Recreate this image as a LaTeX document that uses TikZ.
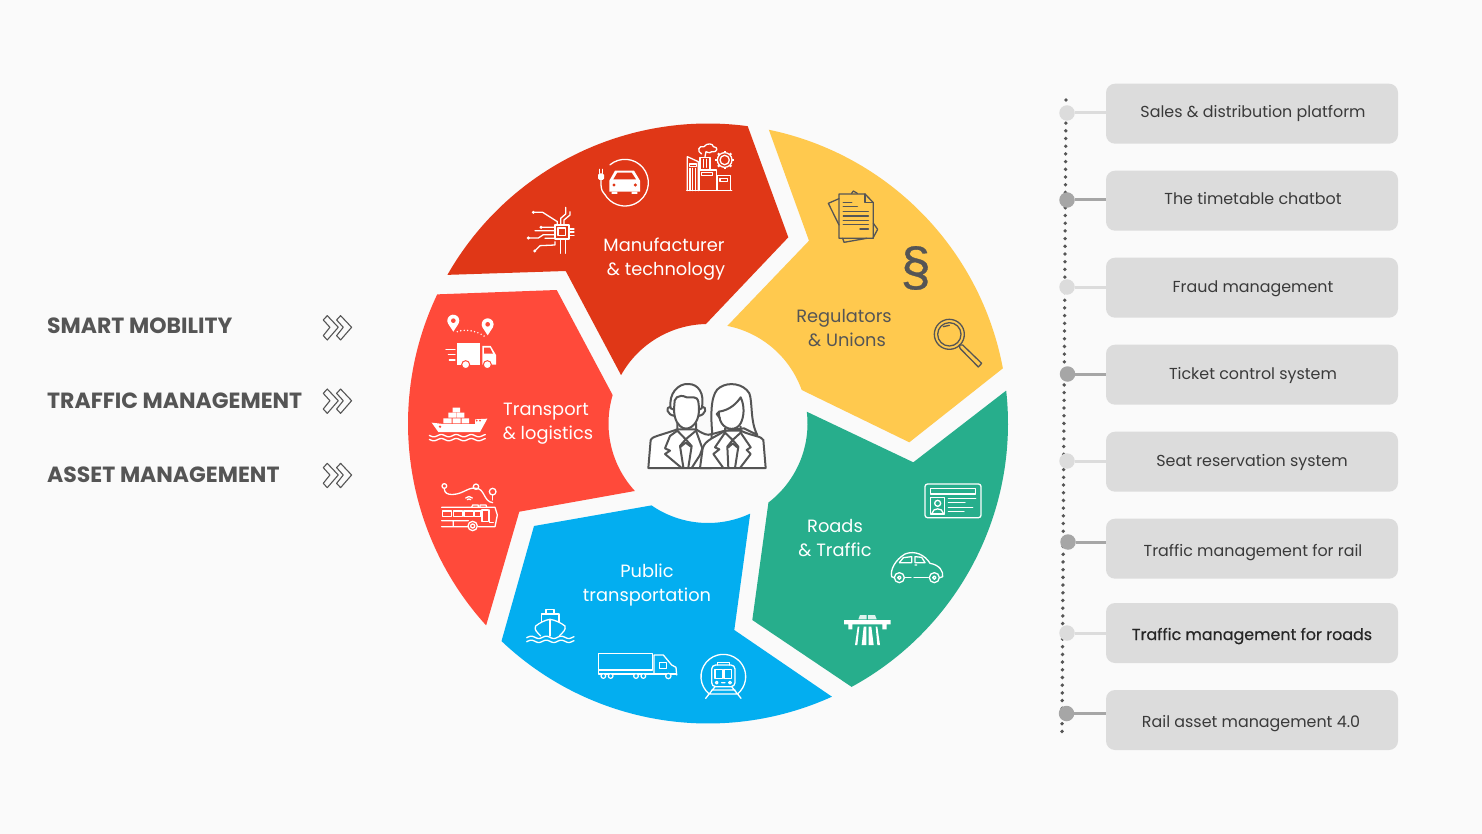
\documentclass[tikz,border=0pt]{standalone}
\usepackage{fontspec}
\usetikzlibrary{calc}
\setmainfont{Poppins}
\definecolor{bgc}{HTML}{FAFAFA}
\definecolor{cman}{HTML}{E03717}
\definecolor{creg}{HTML}{FFC94E}
\definecolor{crd}{HTML}{27AE8C}
\definecolor{cpub}{HTML}{03AEF0}
\definecolor{ctra}{HTML}{FF4A3A}
\definecolor{boxc}{HTML}{DCDCDC}
\definecolor{markd}{HTML}{A6A6A6}
\definecolor{inkc}{HTML}{555555}
\definecolor{txtc}{HTML}{3A3A3A}
\tikzset{
  wheellabel/.style={anchor=base,font=\fontsize{17.8}{24}\selectfont,inner sep=0pt},
  headlabel/.style={anchor=base west,inner sep=0pt,text=inkc,font=\fontsize{22}{24}\selectfont\bfseries},
  listbox/.style={fill=boxc,rounded corners=9pt,minimum width=292pt,minimum height=60pt,inner sep=0pt},
  listtext/.style={anchor=base,inner sep=0pt,text=txtc,font=\fontsize{15.9}{20}\selectfont},
  lightmark/.style={circle,fill=boxc,minimum size=15.5pt,inner sep=0pt},
  darkmark/.style={circle,fill=markd,minimum size=15.5pt,inner sep=0pt},
  iconw/.style={draw=white,line width=1.3pt,line join=round,line cap=round},
  iconk/.style={draw=inkc,line width=1.3pt,line join=round,line cap=round},
  zoomed/.style={x=0.33333pt,y=-0.33333pt},
}
\newcommand\pinicon[3]{\fill[white] (#1,#2+33) -- (#1-15.6,#2+9) arc[start angle=150,end angle=390,radius=18] -- cycle; \fill[#3] (#1,#2) circle[radius=7];}
\newcommand\waveline[4]{\draw[#4] plot[domain=#1:#2,samples=40,smooth] (\x,{#3+3.5*sin(\x*8)});}
\newcommand\chevicon[2]{
  \begin{scope}[shift={(#1,#2)},zoomed]
  \draw[draw=inkc,line width=1.1pt,line join=round] (-40,-22)--(-28,-35)--(5,0)--(-28,38)--(-40,25)--(-20,0)--cycle;
  \draw[draw=inkc,line width=1.1pt,line join=round] (0,-22)--(12,-35)--(45,0)--(12,38)--(0,25)--(20,0)--cycle;
  \end{scope}}
\begin{document}
\begin{tikzpicture}[x=1pt,y=-1pt]
\path[use as bounding box,fill=bgc] (0,0) rectangle (1482,834);
\coordinate (c) at (708,423.5);
% wheel
\fill[cman] (c)++(-82.4:300) arc[start angle=-82.4,end angle=-150.3,radius=300] -- (565.7,271) -- (621,375) -- ($(c)+(-150.9:99.5)$) arc[start angle=-150.9,end angle=-91.2,radius=99.5] -- (788.3,237.3) -- cycle;
\fill[creg] (c)++(-78.3:300) arc[start angle=-78.3,end angle=-10.6,radius=300] -- (909.3,442.3) -- ($(c)+(-19.7:99.5)$) arc[start angle=-19.7,end angle=-78.8,radius=99.5] -- (809,240.7) -- cycle;
\fill[crd] (c)++(-6.3:300) arc[start angle=-6.3,end angle=61.4,radius=300] -- (752.3,620) -- ($(c)+(52.6:99.5)$) arc[start angle=52.6,end angle=-6.8,radius=99.5] -- (913.3,462.3) -- cycle;
\fill[cpub] (c)++(65.6:300) arc[start angle=65.6,end angle=133.5,radius=300] -- (534,526) -- ($(c)+(124.6:99.5)$) arc[start angle=124.6,end angle=64.9,radius=99.5] -- (734.3,630) -- cycle;
\fill[ctra] (c)++(137.7:300) arc[start angle=137.7,end angle=205.5,radius=300] -- (556.7,290) -- ($(c)+(196.6:99.5)$) arc[start angle=196.6,end angle=137.3,radius=99.5] -- (519.3,511.7) -- cycle;
% wheel labels
\node[wheellabel,text=white] (lmana) at (664,251.7) {Manufacturer};
\node[wheellabel,text=white] (lmanb) at (666,275.7) {\& technology};
\node[wheellabel,text=inkc] (lrega) at (844,322.7) {Regulators};
\node[wheellabel,text=inkc] (lregb) at (847,346.7) {\& Unions};
\node[wheellabel,text=white] (ltraa) at (546,415) {Transport};
\node[wheellabel,text=white] (ltrab) at (548,439) {\& logistics};
\node[wheellabel,text=white] (lrda) at (835,532.7) {Roads};
\node[wheellabel,text=white] (lrdb) at (835,556.7) {\& Traffic};
\node[wheellabel,text=white] (lpuba) at (647,577.7) {Public};
\node[wheellabel,text=white] (lpubb) at (647,601.7) {transportation};
% left labels
\node[headlabel] (h1) at (47,333.5) {SMART MOBILITY};
\node[headlabel] (h2) at (47,408) {TRAFFIC MANAGEMENT};
\node[headlabel] (h3) at (47,482.5) {ASSET MANAGEMENT};
\chevicon{336.6}{327.3}
\chevicon{336.6}{400.7}
\chevicon{336.6}{475}
% list
\draw[draw=inkc,line width=3.8pt,line cap=round,dash pattern=on 0pt off 7.7pt] (1066,100) -- (1062,733);
\node[listbox] (b1) at (1252,113.7) {};
\node[listbox] (b2) at (1252,200.7) {};
\node[listbox] (b3) at (1252,287.7) {};
\node[listbox] (b4) at (1252,374.7) {};
\node[listbox] (b5) at (1252,461.7) {};
\node[listbox] (b6) at (1252,548.7) {};
\node[listbox] (b7) at (1252,633) {};
\node[listbox] (b8) at (1252,720) {};
\node[listtext] (t1) at (1253,118) {Sales \& distribution platform};
\node[listtext] (t2) at (1253,205) {The timetable chatbot};
\node[listtext] (t3) at (1253,292) {Fraud management};
\node[listtext] (t4) at (1253,379) {Ticket control system};
\node[listtext] (t5) at (1252,466) {Seat reservation system};
\node[listtext] (t6) at (1253,556) {Traffic management for rail};
\node[listtext,text=black!85] (t7) at (1252,640) {\addfontfeature{FakeBold=0.4}Traffic management for roads};
\node[listtext] (t8) at (1251,727) {Rail asset management 4.0};
\node[lightmark] (m1) at (1067,113) {};
\node[darkmark] (m2) at (1067,200) {};
\node[lightmark] (m3) at (1067,287) {};
\node[darkmark] (m4) at (1067.5,374) {};
\node[lightmark] (m5) at (1067,461) {};
\node[darkmark] (m6) at (1068,542) {};
\node[lightmark] (m7) at (1067,633) {};
\node[darkmark] (m8) at (1066.5,713.5) {};
\foreach \i/\cc in {1/boxc,3/boxc,5/boxc,7/boxc,2/markd,4/markd,6/markd,8/markd}
  \draw[\cc,line width=3pt] (m\i) -- (m\i -| b\i.west);
% people
\begin{scope}[shift={(620,360)},zoomed]
\begin{scope}[draw=inkc,fill=white,line width=2pt,line join=round,line cap=round]
\filldraw (85,324) -- (92,240) .. controls (95,230) and (115,228) .. (172,208) -- (228,208) .. controls (250,222) and (262,228) .. (275,222) -- (275,324) -- cycle;
\filldraw (240,324) -- (248,265) .. controls (255,240) and (285,232) .. (315,212) -- (362,212) .. controls (395,228) and (425,228) .. (430,240) -- (437,324) -- cycle;
\filldraw (277,222) .. controls (270,150) and (275,95) .. (300,82) .. controls (325,65) and (370,70) .. (388,100) .. controls (398,125) and (390,185) .. (412,225) -- (372,205) -- (315,212) -- cycle;
\filldraw (297,155) .. controls (330,150) and (350,130) .. (362,112) .. controls (375,140) and (372,170) .. (362,190) .. controls (350,212) and (320,212) .. (305,190) .. controls (298,178) and (296,165) .. (297,155) -- cycle;
\draw (297,155) -- (290,162) -- (300,175);
\draw (315,205) -- (315,218) -- (338,240) -- (362,218) -- (362,200);
\draw (315,218) -- (285,262) -- (298,268) -- (280,282) -- (310,324);
\draw (362,218) -- (392,262) -- (380,270) -- (392,282) -- (360,324);
\draw (338,240) -- (322,260) -- (325,324) (338,240) -- (355,260) -- (345,324);
\draw (325,262) -- (338,250) -- (352,262);
\filldraw (152,140) .. controls (135,140) and (140,165) .. (165,168) -- (165,140) -- cycle;
\filldraw (247,140) .. controls (262,140) and (258,165) .. (235,168) -- (235,140) -- cycle;
\filldraw (152,145) .. controls (145,100) and (175,70) .. (205,72) .. controls (235,72) and (255,100) .. (245,145) -- (235,150) -- (165,150) -- cycle;
\filldraw (163,135) .. controls (160,115) and (175,100) .. (200,112) .. controls (215,115) and (230,105) .. (235,125) .. controls (240,160) and (235,185) .. (215,200) .. controls (205,208) and (190,208) .. (180,198) .. controls (165,185) and (160,160) .. (163,135) -- cycle;
\draw (172,190) -- (172,212) -- (197,238) -- (228,212) -- (228,190);
\draw (172,212) -- (150,228) -- (135,265) -- (150,272) -- (135,282) -- (185,324);
\draw (228,212) -- (247,265) -- (240,285) -- (215,324);
\draw (197,238) -- (180,258) -- (190,322) (197,238) -- (215,258) -- (205,322);
\draw (182,260) -- (197,248) -- (213,260);
\end{scope}
\end{scope}
% manufacturer icons
\begin{scope}[shift={(400,110)},zoomed]
\draw[iconw] (675,218)++(-130:70) arc[start angle=-130,end angle=150,radius=70];
\draw[iconw] (603,208) -- (603,225) .. controls (604,240) and (608,248) .. (614,253);
\fill[white,rounded corners=1.5pt] (594,190) rectangle (612,210);
\draw[iconw] (598,178) -- (598,190) (608,178) -- (608,190);
\fill[white] (628,245) -- (628,212) -- (645,182) -- (702,182) -- (720,212) -- (720,245) -- cycle;
\fill[white] (635,245) rectangle (652,252) (695,245) rectangle (712,252);
\fill[cman] (640,208) -- (652,188) -- (695,188) -- (708,208) -- cycle;
\fill[cman] (642,225) circle[radius=5] (706,225) circle[radius=5];
% factory
\draw[iconw] (860,242) -- (995,242);
\draw[iconw] (862,242) -- (862,140) -- (895,155) -- (895,242);
\draw[iconw] (870,175) -- (870,242) (878,175) -- (878,242) (886,175) -- (886,242) (868,162) rectangle (890,170);
\draw[iconw] (897,180) rectangle (950,242) (905,188) rectangle (938,196);
\draw[iconw] (952,197) rectangle (992,242) (960,206) rectangle (982,214);
\draw[iconw] (900,178) -- (900,142) -- (930,142) -- (930,178) (910,148) -- (910,172) (920,148) -- (920,172);
\draw[iconw] (905,132) .. controls (890,125) and (895,105) .. (912,110) .. controls (920,98) and (940,100) .. (940,110) .. controls (955,110) and (955,128) .. (935,125) .. controls (928,132) and (920,125) .. (918,125) -- (915,140);
\draw[iconw] (974,150) circle[radius=14] (974,150) circle[radius=22];
\foreach \a in {0,45,...,315} \draw[white,line width=2.2pt] (974,150)++(\a:22) -- ++(\a:6);
% chip
\draw[iconw] (465,345) rectangle (507,387) (474,354) rectangle (497,377);
\draw[iconw] (398,307) -- (428,307) -- (472,335) -- (472,345);
\fill[white] (400,307) circle[radius=5] (423,352) circle[radius=5] (385,384) circle[radius=5] (404,423) circle[radius=5];
\draw[iconw] (423,352) -- (465,352) (405,362) -- (465,362) (385,384) -- (415,384) -- (430,374) -- (465,374) (404,423) -- (420,407) -- (465,405) -- (465,395) (435,385) -- (465,385);
\draw[iconw] (482,345) -- (482,325) -- (497,312) -- (497,292) (492,345) -- (492,330) -- (510,315) -- (510,305);
\draw[iconw] (482,387) -- (482,430) (497,387) -- (497,430);
\draw[iconw] (507,357) -- (522,357) (507,366) -- (522,366) (507,376) -- (522,376);
% pins & truck
\pinicon{160}{632}{ctra}
\pinicon{263}{643}{ctra}
\draw[white,line width=1.6pt,dash pattern=on 0pt off 3.5pt,line cap=round] (172,665) .. controls (200,655) and (235,665) .. (255,680);
\fill[white] (170,700) rectangle (240,764);
\fill[white] (247,708) -- (272,708) -- (288,735) -- (288,764) -- (247,764) -- cycle;
\fill[ctra] (252,713) -- (270,713) -- (279,731) -- (252,731) -- cycle;
\filldraw[fill=white,draw=ctra,line width=1pt] (197,764) circle[radius=12] (262,764) circle[radius=12];
\draw[iconw] (138,718) -- (165,718) (145,733) -- (165,733) (148,750) -- (165,750);
\end{scope}
% regulators icons
\begin{scope}[shift={(720,110)},zoomed]
\draw[iconk] (357,266) -- (325,280) -- (357,345) (395,250) -- (400,243) -- (412,250);
\draw[iconk] (460,340) -- (473,358) -- (460,382) (368,385) -- (372,397) -- (440,385);
\draw[iconk] (357,252) -- (435,252) -- (460,278) -- (460,385) -- (357,385) -- cycle;
\draw[iconk] (435,252) -- (435,278) -- (460,278);
\draw[iconk,line width=1.5pt] (370,278) -- (395,278) (370,290) -- (412,290) (370,305) -- (445,305) (370,318) -- (445,318) (370,331) -- (445,331) (370,344) -- (445,344) (420,357) -- (445,357);
\draw[iconk] (688,673) circle[radius=45] (688,673) circle[radius=35];
\draw[iconk] (670,650) -- (688,646);
\draw[iconk] (718,705) -- (728,705) -- (785,760) -- (775,771) -- (720,715) -- cycle;
\end{scope}
\node[inner sep=0pt,text=inkc,font=\fontsize{54}{54}\selectfont] (para) at (915.7,268) {\fontspec[FakeBold=0.6]{Liberation Sans}§};
% transport icons
\begin{scope}[shift={(400,400)},zoomed]
\fill[white] (95,68) -- (130,72) -- (225,72) -- (225,58) -- (262,56) -- (240,96) -- (115,96) -- cycle;
\fill[white] (130,55) rectangle (155,70) (158,55) rectangle (182,70) (185,55) rectangle (207,70) (145,38) rectangle (168,53) (170,38) rectangle (193,53) (158,23) rectangle (180,36);
\fill[ctra] (230,62) circle[radius=3] (240,62) circle[radius=3] (120,80) circle[radius=4];
\waveline{88}{256}{107}{iconw}
\waveline{88}{256}{119}{iconw}
% bus
\draw[iconw] (125,322) -- (285,322) -- (292,345) -- (285,380) -- (235,380) (205,380) -- (125,380) (125,362) -- (205,362) (160,362) -- (160,380);
\draw[iconw] (215,322) -- (218,315) -- (235,315) -- (235,322) (240,322) -- (240,315) -- (258,315) -- (260,322);
\draw[iconw] (127,333) rectangle (155,350) (160,333) rectangle (187,350) (192,333) rectangle (220,350) (223,333) rectangle (243,350) (246,330) rectangle (265,365) (268,330) -- (268,368) -- (280,368);
\draw[iconw] (218,378) circle[radius=14] (218,378) circle[radius=6];
\draw[iconw] (133,268) .. controls (135,290) and (170,285) .. (190,275) .. controls (205,268) and (215,262) .. (228,265) .. controls (255,265) and (250,305) .. (278,308);
\draw[iconw] (133,258) circle[radius=7] (228,260) circle[radius=8] (278,275) circle[radius=10];
\draw[iconw] (133,266) -- (133,272) (278,285) -- (278,300);
\draw[iconw] (197,294) .. controls (202,288) and (212,288) .. (217,294) (202,299) .. controls (205,296) and (209,296) .. (212,299);
% public icons
\draw[iconw] (438,642) -- (438,628) -- (462,628) -- (462,642);
\draw[iconw] (425,665) -- (425,642) -- (477,642) -- (477,665);
\draw[iconw] (450,658) -- (450,708);
\draw[iconw] (422,708) .. controls (410,695) and (402,690) .. (407,678) .. controls (420,668) and (435,660) .. (450,658) .. controls (465,660) and (482,668) .. (495,678) .. controls (498,690) and (490,695) .. (478,708);
\waveline{380}{522}{712}{iconw}
\waveline{380}{522}{724}{iconw}
\draw[iconw] (595,760) rectangle (757,810);
\draw[iconw] (595,812) -- (595,822) -- (830,822);
\draw[iconw] (762,820) -- (762,765) -- (790,765) -- (815,795) -- (828,802) -- (830,825);
\draw[iconw] (778,787) -- (800,787) -- (800,805) -- (778,805) -- cycle;
\filldraw[fill=cpub,draw=white,line width=1.2pt] (610,828) circle[radius=7] (632,828) circle[radius=7] (708,828) circle[radius=7] (730,828) circle[radius=7] (805,828) circle[radius=8];
\draw[iconw] (970,830)++(130:67) arc[start angle=130,end angle=410,radius=67];
\draw[iconw,rounded corners=4pt] (935,795) rectangle (1005,860);
\draw[iconw] (952,795) -- (952,788) -- (988,788) -- (988,795);
\draw[iconw] (945,808) rectangle (968,835) (972,808) rectangle (995,835);
\draw[iconw] (950,848) circle[radius=4] (990,848) circle[radius=4] (965,848) -- (975,848);
\draw[iconw] (917,895) -- (945,860) (1023,895) -- (995,860) (935,870) -- (1005,870) (925,882) -- (1015,882);
\end{scope}
% roads icons
\begin{scope}[shift={(740,400)},zoomed]
\draw[iconw,rounded corners=2.5pt] (555,252) rectangle (723,353);
\draw[iconw] (572,265) rectangle (707,282) (572,292) rectangle (613,342);
\draw[iconw] (593,310) circle[radius=9];
\draw[iconw] (576,340) .. controls (578,322) and (608,322) .. (610,340);
\draw[iconw] (625,295) -- (707,295) (625,308) -- (675,308) (625,322) -- (698,322) (625,335) -- (672,335);
\draw[iconw] (462,533) -- (455,530) .. controls (450,510) and (465,480) .. (495,462) .. controls (525,450) and (555,465) .. (570,490) .. controls (600,495) and (610,515) .. (608,530) -- (600,533);
\draw[iconw] (495,533) -- (513,533) (522,533) -- (565,533);
\draw[iconw] (478,488) -- (490,473) -- (515,470) -- (515,488) -- cycle (525,470) -- (545,472) -- (555,488) -- (525,488) -- cycle (525,495) -- (530,495);
\draw[iconw] (478,533) circle[radius=15] (478,533) circle[radius=5] (583,533) circle[radius=15] (583,533) circle[radius=5];
\fill[white] (312,660) rectangle (452,673) (325,673) rectangle (337,688) (427,673) rectangle (440,688);
\fill[white] (345,735) -- (353,680) -- (358,680) -- (352,735) -- cycle (365,735) -- (371,680) -- (379,680) -- (379,735) -- cycle (386,735) -- (386,680) -- (394,680) -- (401,735) -- cycle (412,735) -- (407,680) -- (412,680) -- (420,735) -- cycle;
\fill[white!85!crd] (355,658) -- (360,645) -- (380,645) -- (380,658) -- cycle (384,658) -- (384,645) -- (405,645) -- (410,658) -- cycle;
\end{scope}
\end{tikzpicture}
\end{document}
